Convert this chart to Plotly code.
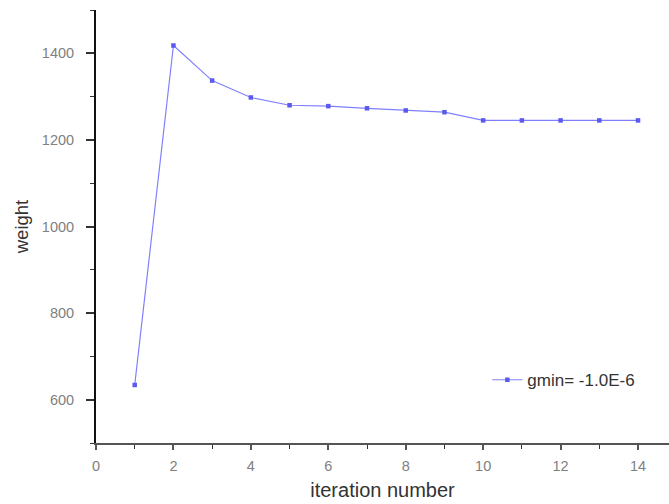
import plotly.graph_objects as go

iterations = [1, 2, 3, 4, 5, 6, 7, 8, 9, 10, 11, 12, 13, 14]
weights = [634, 1418, 1337, 1298, 1280, 1278, 1273, 1268, 1264, 1245, 1245, 1245, 1245, 1245]
series_name = "gmin= -1.0E-6"

fig = go.Figure()
fig.add_trace(go.Scatter(
    x=iterations, y=weights, mode="lines+markers", name=series_name,
    line=dict(color="#8080ff", width=1.2),
    marker=dict(symbol="square", size=4.5, color="#5a5af0"),
))

tickfont = dict(family="Liberation Sans, Arial", size=14.5, color="#808080")
fig.update_layout(
    width=669, height=504,
    margin=dict(l=96, r=0, t=10, b=61),
    paper_bgcolor="white", plot_bgcolor="white",
    showlegend=True,
    legend=dict(x=0.683, y=0.145, xanchor="left", yanchor="middle",
                bgcolor="rgba(0,0,0,0)",
                font=dict(family="Liberation Sans, Arial", size=17, color="#333333")),
    xaxis=dict(range=[0, 14.8], tickmode="linear", tick0=0, dtick=2,
               automargin=False,
               showgrid=False, zeroline=False, showline=True,
               linecolor="#555555", linewidth=2,
               ticks="outside", ticklen=5, tickwidth=2, tickcolor="#555555",
               ticklabelstandoff=4,
               minor=dict(dtick=1, ticks="outside", ticklen=4, tickcolor="#333333", tickwidth=1),
               tickfont=tickfont,
               title=dict(text="iteration number", standoff=10,
                          font=dict(family="Liberation Sans, Arial", size=20, color="#333333"))),
    yaxis=dict(range=[500, 1500], tickmode="linear", tick0=600, dtick=200,
               automargin=False,
               showgrid=False, zeroline=False, showline=True,
               linecolor="#111111", linewidth=2,
               ticks="outside", ticklen=8, tickwidth=2, tickcolor="#333333",
               ticklabelstandoff=9,
               minor=dict(dtick=100, ticks="outside", ticklen=4, tickcolor="#333333", tickwidth=1),
               tickfont=tickfont,
               title=dict(text="weight", standoff=8,
                          font=dict(family="Liberation Sans, Arial", size=18.5, color="#333333"))),
)

fig.write_html("out.html", post_script="document.body.style.margin='0px';",
               config={"displayModeBar": False})
